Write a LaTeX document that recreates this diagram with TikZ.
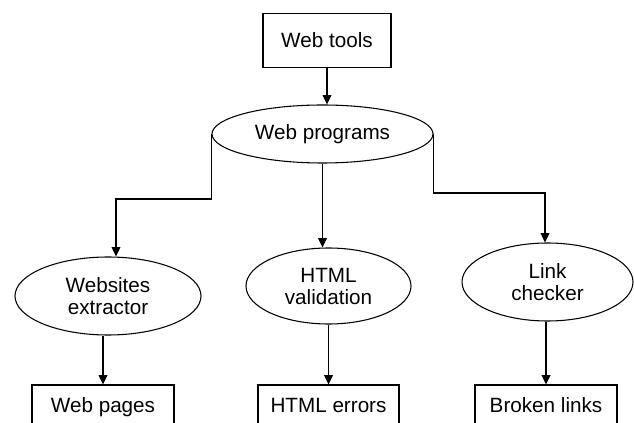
\documentclass[tikz,border=0pt]{standalone}
\usepackage{fontspec}
\setmainfont{Liberation Sans}
\usetikzlibrary{shapes.geometric,arrows.meta}
\begin{document}
\begin{tikzpicture}[x=0.75pt,y=-0.75pt,
		font=\fontsize{15.5}{16.5}\selectfont,
		box/.style={draw, line width=0.8pt, inner sep=0pt, text height=13pt, text depth=2pt, minimum height=41pt, minimum width=96pt},
		oval/.style={ellipse, draw, line width=0.8pt, inner sep=0pt, align=center},
		arr/.style={line width=1.1pt, -{Triangle[length=7pt,width=6.5pt]}}]
		    \useasboundingbox (0,0) rectangle (634,423);
		    \clip (0,0) rectangle (634,423);
		    
		    \node [box] (tools) at (327,40.5) {Web tools};
		    \node [oval, minimum width=165.75pt, minimum height=43.5pt] (progs) at (322.5,134) {Web programs};
		    
		    \node [oval, minimum width=139.5pt, minimum height=58.5pt] (extr) at (108,296) {Websites\\extractor};
		    \node [oval, minimum width=123.75pt, minimum height=57pt] (valid) at (328.5,286) {HTML\\validation};
		    \node [oval, minimum width=128.25pt, minimum height=58.5pt] (link) at (547.5,282) {Link\\checker};
		    
		    \node [box, minimum width=106.5pt, minimum height=30pt] (pages) at (103,405) {Web pages};
		    \node [box, minimum width=105.75pt, minimum height=30pt] (errs) at (328.5,405) {HTML errors};
		    \node [box, minimum width=106.5pt, minimum height=30pt] (broken) at (546,405) {Broken links};
		    
		    \coordinate (lbar) at (116,199);
		    \coordinate (rbar) at (545,193);
		    
			\draw [arr] (tools.south) -- (tools.south |- progs.north);
			\draw [arr] (progs.west) |- (lbar) -- (lbar |- extr.north);
			\draw [arr] (progs.south) -- (progs.south |- valid.north);
			\draw [arr] (progs.east) |- (rbar) -- (rbar |- link.north);
			
			\draw [arr] (extr.south -| pages.north) -- (pages.north);
			\draw [arr] (valid.south -| errs.north) -- (errs.north);
			\draw [arr] (link.south -| broken.north) -- (broken.north);
		\end{tikzpicture}
\end{document}
